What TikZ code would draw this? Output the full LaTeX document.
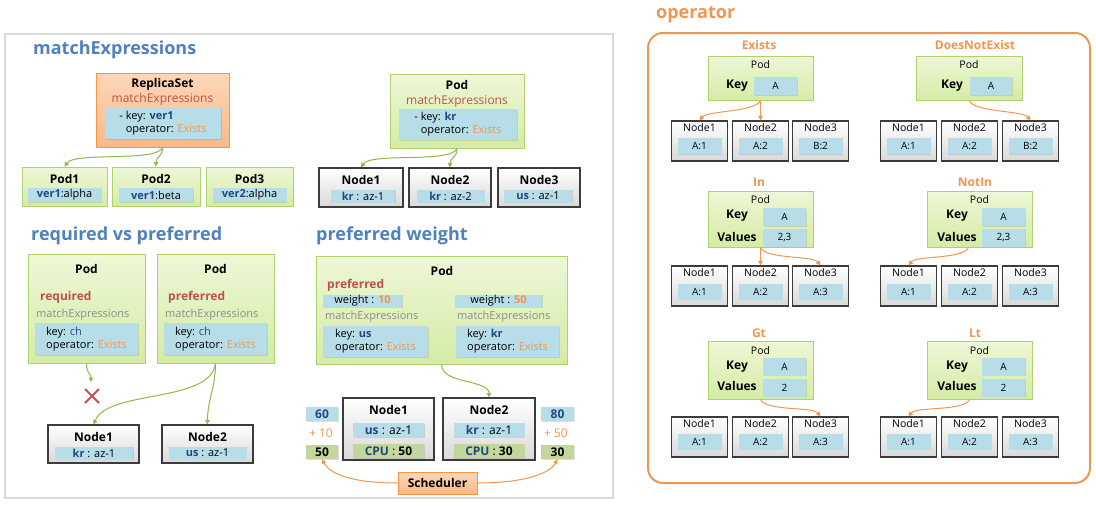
\documentclass[tikz,border=0pt]{standalone}
\usepackage{fontspec}
\setmainfont{Open Sans}
\usepackage{tikz}
\usetikzlibrary{arrows.meta,shadows}
\definecolor{titleblue}{RGB}{79,129,189}
\definecolor{keyblue}{RGB}{31,73,125}
\definecolor{redtext}{RGB}{192,80,77}
\definecolor{oporange}{RGB}{240,150,80}
\definecolor{orline}{RGB}{247,150,70}
\definecolor{ortop}{RGB}{252,215,185}
\definecolor{orbot}{RGB}{250,185,135}
\definecolor{grline}{RGB}{175,210,110}
\definecolor{grtop}{RGB}{238,247,215}
\definecolor{grbot}{RGB}{212,236,165}
\definecolor{grarrow}{RGB}{140,185,75}
\definecolor{boxblue}{RGB}{183,222,232}
\definecolor{cpuolive}{RGB}{195,214,155}
\definecolor{nodeline}{RGB}{60,60,60}
\definecolor{paneline}{RGB}{218,218,218}
\definecolor{softgray}{RGB}{140,140,140}
\definecolor{crossred}{RGB}{210,75,75}

\newcommand{\keyv}[1]{\textcolor{keyblue}{\textbf{#1}}}
\newcommand{\opv}[1]{\textcolor{oporange}{#1}}

\begin{document}
\begin{tikzpicture}[x=1pt,y=-1pt,
  every node/.style={inner sep=0pt,font=\fontsize{11pt}{13pt}\selectfont},
  head/.style={font=\fontsize{12pt}{14pt}\selectfont\bfseries},
  bigtxt/.style={font=\fontsize{12pt}{14pt}\selectfont},
  redword/.style={anchor=west,text=redtext,font=\fontsize{12pt}{14pt}\selectfont\bfseries},
  sectitle/.style={anchor=west,font=\fontsize{18pt}{21pt}\selectfont\bfseries,text=titleblue},
  optitle/.style={font=\fontsize{12pt}{14pt}\selectfont\bfseries,text=oporange},
  orbox/.style={draw=orline,line width=0.8pt,top color=ortop,bottom color=orbot},
  grbox/.style={draw=grline,line width=0.8pt,top color=grtop,bottom color=grbot},
  graynode/.style={draw=nodeline,line width=1.2pt,top color=white,bottom color=gray!30},
  valbox/.style={fill=boxblue,drop shadow={opacity=0.25,shadow xshift=0.8pt,shadow yshift=-0.8pt}},
  cpubox/.style={fill=cpuolive,drop shadow={opacity=0.25,shadow xshift=0.8pt,shadow yshift=-0.8pt}},
  opnode/.style={graynode,minimum width=56pt,minimum height=40pt},
  oplbl/.style={font=\fontsize{10.5pt}{12pt}\selectfont},
  opkey/.style={font=\fontsize{12pt}{14pt}\selectfont\bfseries},
  opval/.style={valbox,minimum width=44pt,minimum height=16pt,font=\fontsize{10pt}{12pt}\selectfont},
  garrow/.style={-{Triangle[length=4.5pt,width=4.5pt]},line width=1pt,draw=grarrow},
  oarrow/.style={-{Triangle[length=4.5pt,width=4.5pt]},line width=1pt,draw=oporange},
  xmark/.style={draw=crossred,line width=2pt}
]
\useasboundingbox (0,0) rectangle (1096,509);

% left panel
\draw[draw=paneline,line width=1.5pt] (5,34) rectangle (613,498);

\node[sectitle] (ttlmatch) at (33,50) {matchExpressions};
\node[orbox,minimum width=133pt,minimum height=74pt] (rs) at (162.5,110) {};
\node[head] (rshead) at (162.5,84) {ReplicaSet};
\node[bigtxt,text=redtext] (rsmexp) at (162.5,99) {matchExpressions};
\node[valbox,minimum width=116pt,minimum height=31pt,align=left] (rsexpr) at (163,123.5) {- key: \keyv{ver1}\\\phantom{- }operator: \opv{Exists}};

\node[grbox,minimum width=85pt,minimum height=39pt] (pod1) at (64.5,186.5) {};
\node[head] (pod1head) at (64.5,179) {Pod1};
\node[valbox,minimum width=74pt,minimum height=14pt] (pod1lbl) at (64.5,195) {\keyv{ver1}:alpha};
\node[grbox,minimum width=88pt,minimum height=39pt] (pod2) at (156,186.5) {};
\node[head] (pod2head) at (156,179) {Pod2};
\node[valbox,minimum width=74pt,minimum height=14pt] (pod2lbl) at (156,195) {\keyv{ver1}:beta};
\node[grbox,minimum width=87pt,minimum height=39pt] (pod3) at (249.5,186.5) {};
\node[head] (pod3head) at (249.5,179) {Pod3};
\node[valbox,minimum width=74pt,minimum height=14pt] (pod3lbl) at (249.5,195) {\keyv{ver2}:alpha};

\draw[garrow] (rs.south) .. controls +(-5,15) and +(10,-15) .. (pod1.north);
\draw[garrow] (rs.south) .. controls +(0,10) and +(0,-10) .. (pod2.north);

\node[grbox,minimum width=134pt,minimum height=74pt] (npod) at (457,111) {};
\node[head] (npodhead) at (457,85) {Pod};
\node[bigtxt,text=redtext] (npodmexp) at (457,101) {matchExpressions};
\node[valbox,minimum width=118pt,minimum height=31pt,align=left] (npodexpr) at (458,124.5) {- key: \keyv{kr}\\\phantom{- }operator: \opv{Exists}};

\node[graynode,minimum width=84pt,minimum height=39pt] (nn1) at (361,187.5) {};
\node[head] (nn1head) at (361,180) {Node1};
\node[valbox,minimum width=64pt,minimum height=13pt] (nn1lbl) at (363,196) {\keyv{kr} : az-1};
\node[graynode,minimum width=82pt,minimum height=39pt] (nn2) at (450,187.5) {};
\node[head] (nn2head) at (450,180) {Node2};
\node[valbox,minimum width=68pt,minimum height=13pt] (nn2lbl) at (450.5,196) {\keyv{kr} : az-2};
\node[graynode,minimum width=82pt,minimum height=39pt] (nn3) at (539,187.5) {};
\node[head] (nn3head) at (539,180) {Node3};
\node[valbox,minimum width=68pt,minimum height=13pt] (nn3lbl) at (538,196) {\keyv{us} : az-1};

\draw[garrow] (npod.south) .. controls +(-5,15) and +(10,-15) .. (nn1.north);
\draw[garrow] (npod.south) .. controls +(0,10) and +(0,-10) .. (nn2.north);

% required vs preferred
\node[sectitle] (ttlreq) at (31,236) {required vs preferred};
\node[grbox,minimum width=117pt,minimum height=109pt] (reqpod) at (86.5,308.5) {};
\node[head] (reqhead) at (86.5,269) {Pod};
\node[redword] (reqword) at (40,297) {required};
\node[anchor=west,text=softgray] (reqmexp) at (36,315) {matchExpressions};
\node[valbox,minimum width=103pt,minimum height=32pt,align=left] (reqexpr) at (86.5,339) {key: \textcolor{keyblue}{ch}\\operator: \opv{Exists}};

\node[grbox,minimum width=117pt,minimum height=109pt] (prefpod) at (215.5,308.5) {};
\node[head] (prefhead) at (215.5,269) {Pod};
\node[redword] (prefword) at (168,297) {preferred};
\node[anchor=west,text=softgray] (prefmexp) at (165,315) {matchExpressions};
\node[valbox,minimum width=103pt,minimum height=32pt,align=left] (prefexpr) at (215.5,339) {key: \textcolor{keyblue}{ch}\\operator: \opv{Exists}};

\node[graynode,minimum width=91pt,minimum height=38pt] (rn1) at (93.5,444) {};
\node[head] (rn1head) at (93.5,437) {Node1};
\node[valbox,minimum width=78pt,minimum height=13pt] (rn1lbl) at (94,453) {\keyv{kr} : az-1};
\node[graynode,minimum width=91pt,minimum height=38pt] (rn2) at (207.5,444) {};
\node[head] (rn2head) at (207.5,437) {Node2};
\node[valbox,minimum width=78pt,minimum height=13pt] (rn2lbl) at (207.5,453) {\keyv{us} : az-1};

\coordinate (reqstop) at (91,382);
\draw[garrow] (reqpod.south) .. controls +(0,10) and +(0,-8) .. (reqstop);
\draw[xmark] (85,389) -- (99,403) (85,403) -- (99,389);
\draw[garrow] (prefpod.south) .. controls +(-5,40) and +(15,-35) .. (rn1.north);
\draw[garrow] (prefpod.south) .. controls +(0,25) and +(0,-25) .. (rn2.north);

% preferred weight
\node[sectitle] (ttlweight) at (316,236) {preferred weight};
\node[grbox,minimum width=251pt,minimum height=108pt] (wpod) at (441.5,310) {};
\node[head] (wpodhead) at (442,271) {Pod};
\node[redword] (wprefword) at (327,285) {preferred};
\node[valbox,minimum width=79pt,minimum height=13pt] (w10) at (362.5,301) {weight : \opv{\textbf{10}}};
\node[valbox,minimum width=87pt,minimum height=13pt] (w50) at (498.5,301) {weight : \opv{\textbf{50}}};
\node[anchor=west,text=softgray] (wmexpa) at (325,317) {matchExpressions};
\node[anchor=west,text=softgray] (wmexpb) at (457,317) {matchExpressions};
\node[valbox,minimum width=105pt,minimum height=31pt,align=left] (wexpra) at (375.5,341.5) {key: \keyv{us}\\operator: \opv{Exists}};
\node[valbox,minimum width=103pt,minimum height=31pt,align=left] (wexprb) at (507.5,341.5) {key: \keyv{kr}\\operator: \opv{Exists}};

\node[graynode,minimum width=91pt,minimum height=62pt] (wn1) at (388.5,429) {};
\node[head] (wn1head) at (388.5,410) {Node1};
\node[valbox,minimum width=71pt,minimum height=14pt,bigtxt] (wn1lbl) at (388.5,430) {\keyv{us} : az-1};
\node[cpubox,minimum width=71pt,minimum height=14pt,bigtxt] (wn1cpu) at (388.5,451) {\keyv{CPU} : \textbf{50}};
\node[graynode,minimum width=92pt,minimum height=62pt] (wn2) at (489,429) {};
\node[head] (wn2head) at (489,410) {Node2};
\node[valbox,minimum width=71pt,minimum height=14pt,bigtxt] (wn2lbl) at (489,430) {\keyv{kr} : az-1};
\node[cpubox,minimum width=71pt,minimum height=14pt,bigtxt] (wn2cpu) at (489,451) {\keyv{CPU} : \textbf{30}};

\node[valbox,minimum width=32pt,minimum height=14pt,bigtxt] (sc60) at (322,414) {\keyv{60}};
\node[bigtxt,text=oporange] (sc10) at (321,433) {+ 10};
\node[cpubox,minimum width=32pt,minimum height=14pt,bigtxt] (sc50) at (322,452) {\textbf{50}};
\node[valbox,minimum width=33pt,minimum height=14pt,bigtxt] (sc80) at (557.5,414) {\keyv{80}};
\node[bigtxt,text=oporange] (sc50b) at (556,433) {+ 50};
\node[cpubox,minimum width=33pt,minimum height=14pt,bigtxt] (sc30) at (557.5,452) {\textbf{30}};

\node[orbox,minimum width=79pt,minimum height=22pt,head] (sched) at (437.5,483) {Scheduler};

\draw[garrow] (wpod.south) .. controls +(0,20) and +(0,-18) .. (wn2.north);
\draw[oarrow] (sched.west) .. controls +(-45,0) and +(8,15) .. (sc50.south);
\draw[oarrow] (sched.east) .. controls +(45,0) and +(-8,15) .. (sc30.south);

% operator panel
\node[sectitle,text=oporange] (ttlop) at (656,15) {operator};
\draw[draw=oporange,line width=2pt,rounded corners=15pt] (648,33) rectangle (1090,483);

% Exists
\node[optitle] (exttl) at (759,45) {Exists};
\node[grbox,minimum width=105pt,minimum height=44pt] (expod) at (760.5,78) {};
\node[oplbl] (expodhead) at (760.5,65) {Pod};
\node[opkey] (exkey) at (737,86) {Key};
\node[opval,minimum width=43pt,minimum height=18pt] (exkeyv) at (775.5,86) {A};
\foreach \i/\x/\v in {1/699.5/A:1,2/760.5/A:2,3/820.5/B:2}{
  \node[opnode] (exn\i) at (\x,141) {};
  \node[oplbl] (exn\i head) at (\x,128) {Node\i};
  \node[opval] (exn\i val) at (\x,146) {\v};
}
\draw[oarrow] (expod.south) .. controls +(-5,12) and +(8,-10) .. (exn1.north);
\draw[oarrow] (expod.south) -- (exn2.north);

% DoesNotExist
\node[optitle] (dnettl) at (975,45) {DoesNotExist};
\node[grbox,minimum width=106pt,minimum height=44pt] (dnepod) at (969,78) {};
\node[oplbl] (dnepodhead) at (969,65) {Pod};
\node[opkey] (dnekey) at (952,86) {Key};
\node[opval,minimum width=42pt,minimum height=18pt] (dnekeyv) at (991,86) {A};
\foreach \i/\x/\v in {1/908.5/A:1,2/969.5/A:2,3/1030.5/B:2}{
  \node[opnode] (dnen\i) at (\x,141) {};
  \node[oplbl] (dnen\i head) at (\x,128) {Node\i};
  \node[opval] (dnen\i val) at (\x,146) {\v};
}
\draw[oarrow] (dnepod.south) .. controls +(5,12) and +(-8,-10) .. (dnen3.north);

% In
\node[optitle] (inttl) at (759,182) {In};
\node[grbox,minimum width=105pt,minimum height=56pt] (inpod) at (760.5,219) {};
\node[oplbl] (inpodhead) at (760.5,200) {Pod};
\node[opkey] (inkey) at (737,216) {Key};
\node[opval,minimum width=43pt,minimum height=18pt] (inkeyv) at (784.5,217) {A};
\node[opkey] (inval) at (737,237) {Values};
\node[opval,minimum width=43pt,minimum height=18pt] (invalv) at (784.5,237.5) {2,3};
\foreach \i/\x/\v in {1/699.5/A:1,2/760.5/A:2,3/820.5/A:3}{
  \node[opnode] (inn\i) at (\x,286) {};
  \node[oplbl] (inn\i head) at (\x,273) {Node\i};
  \node[opval] (inn\i val) at (\x,291.5) {\v};
}
\draw[oarrow] (inpod.south) -- (inn2.north);
\draw[oarrow] (inpod.south) .. controls +(5,12) and +(-8,-10) .. (inn3.north);

% NotIn
\node[optitle] (nittl) at (975,182) {NotIn};
\node[grbox,minimum width=105pt,minimum height=56pt] (nipod) at (979.5,219) {};
\node[oplbl] (nipodhead) at (979.5,200) {Pod};
\node[opkey] (nikey) at (957,216) {Key};
\node[opval,minimum width=43pt,minimum height=18pt] (nikeyv) at (1003.5,217) {A};
\node[opkey] (nival) at (957,237) {Values};
\node[opval,minimum width=43pt,minimum height=18pt] (nivalv) at (1003.5,237.5) {2,3};
\foreach \i/\x/\v in {1/908.5/A:1,2/969.5/A:2,3/1030.5/A:3}{
  \node[opnode] (nin\i) at (\x,286) {};
  \node[oplbl] (nin\i head) at (\x,273) {Node\i};
  \node[opval] (nin\i val) at (\x,291.5) {\v};
}
\draw[oarrow] ([xshift=-11pt]nipod.south) .. controls +(-5,12) and +(8,-10) .. (nin1.north);

% Gt
\node[optitle] (gtttl) at (759,333) {Gt};
\node[grbox,minimum width=105pt,minimum height=58pt] (gtpod) at (760.5,370) {};
\node[oplbl] (gtpodhead) at (760.5,351) {Pod};
\node[opkey] (gtkey) at (737,367) {Key};
\node[opval,minimum width=43pt,minimum height=18pt] (gtkeyv) at (784.5,366.5) {A};
\node[opkey] (gtval) at (737,386) {Values};
\node[opval,minimum width=43pt,minimum height=18pt] (gtvalv) at (784.5,387.5) {2};
\foreach \i/\x/\v in {1/699.5/A:1,2/760.5/A:2,3/820.5/A:3}{
  \node[opnode] (gtn\i) at (\x,437) {};
  \node[oplbl] (gtn\i head) at (\x,423.5) {Node\i};
  \node[opval] (gtn\i val) at (\x,441.5) {\v};
}
\draw[oarrow] (gtpod.south) .. controls +(5,12) and +(-8,-10) .. (gtn3.north);

% Lt
\node[optitle] (ltttl) at (975,333) {Lt};
\node[grbox,minimum width=105pt,minimum height=58pt] (ltpod) at (979.5,370) {};
\node[oplbl] (ltpodhead) at (979.5,351) {Pod};
\node[opkey] (ltkey) at (957,367) {Key};
\node[opval,minimum width=43pt,minimum height=18pt] (ltkeyv) at (1003.5,366.5) {A};
\node[opkey] (ltval) at (957,386) {Values};
\node[opval,minimum width=43pt,minimum height=18pt] (ltvalv) at (1003.5,387.5) {2};
\foreach \i/\x/\v in {1/908.5/A:1,2/969.5/A:2,3/1030.5/A:3}{
  \node[opnode] (ltn\i) at (\x,437) {};
  \node[oplbl] (ltn\i head) at (\x,423.5) {Node\i};
  \node[opval] (ltn\i val) at (\x,441.5) {\v};
}
\draw[oarrow] ([xshift=-10pt]ltpod.south) .. controls +(-5,12) and +(8,-10) .. (ltn1.north);
\end{tikzpicture}
\end{document}
